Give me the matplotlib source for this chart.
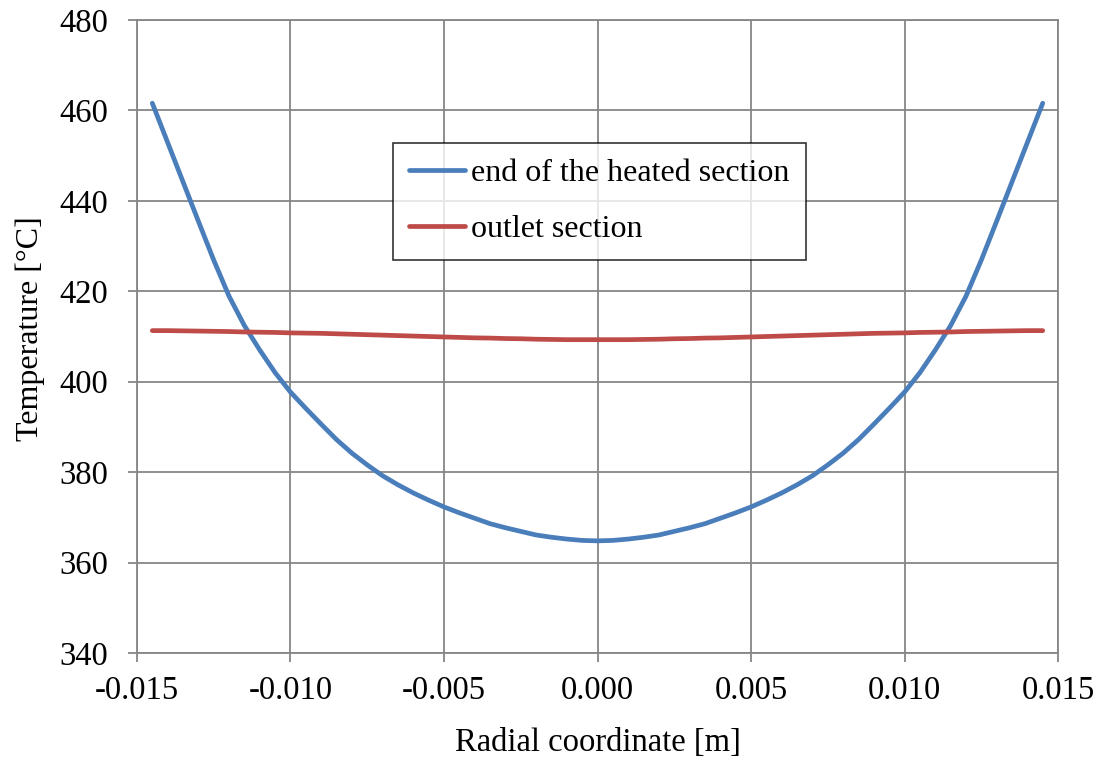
import numpy as np
import matplotlib.pyplot as plt

# radial coordinate [m]
radius = [-0.0145, -0.0140, -0.0135, -0.0130, -0.0125, -0.0120, -0.0115, -0.0110,
          -0.0105, -0.0100, -0.0095, -0.0090, -0.0085, -0.0080, -0.0075, -0.0070,
          -0.0065, -0.0060, -0.0055, -0.0050, -0.0045, -0.0040, -0.0035, -0.0030,
          -0.0025, -0.0020, -0.0015, -0.0010, -0.0005, 0.0000, 0.0005, 0.0010,
          0.0015, 0.0020, 0.0025, 0.0030, 0.0035, 0.0040, 0.0045, 0.0050,
          0.0055, 0.0060, 0.0065, 0.0070, 0.0075, 0.0080, 0.0085, 0.0090,
          0.0095, 0.0100, 0.0105, 0.0110, 0.0115, 0.0120, 0.0125, 0.0130,
          0.0135, 0.0140, 0.0145]

# temperature at the end of the heated section [°C]
temp_heated = [461.6, 452.9, 444.2, 435.5, 426.9, 418.9, 412.4, 407.0,
               402.0, 397.7, 394.1, 390.6, 387.2, 384.2, 381.6, 379.2,
               377.2, 375.4, 373.8, 372.3, 371.0, 369.8, 368.6, 367.7,
               366.9, 366.1, 365.6, 365.2, 364.9, 364.8, 364.9, 365.2,
               365.6, 366.1, 366.9, 367.7, 368.6, 369.8, 371.0, 372.3,
               373.8, 375.4, 377.2, 379.2, 381.6, 384.2, 387.2, 390.6,
               394.1, 397.7, 402.0, 407.0, 412.4, 418.9, 426.9, 435.5,
               444.2, 452.9, 461.6]

# temperature at the outlet section [°C]
temp_outlet = [411.30, 411.30, 411.25, 411.20, 411.15, 411.10, 411.00, 410.95,
               410.90, 410.80, 410.75, 410.70, 410.60, 410.50, 410.40, 410.30,
               410.20, 410.10, 410.00, 409.90, 409.80, 409.70, 409.65, 409.55,
               409.50, 409.40, 409.35, 409.30, 409.30, 409.30, 409.30, 409.30,
               409.35, 409.40, 409.50, 409.55, 409.65, 409.70, 409.80, 409.90,
               410.00, 410.10, 410.20, 410.30, 410.40, 410.50, 410.60, 410.70,
               410.75, 410.80, 410.90, 410.95, 411.00, 411.10, 411.15, 411.20,
               411.25, 411.30, 411.30]

x_ticks = [-0.015, -0.010, -0.005, 0.000, 0.005, 0.010, 0.015]
y_ticks = [340, 360, 380, 400, 420, 440, 460, 480]

plt.rcParams['font.family'] = ['Liberation Serif', 'DejaVu Serif']
plt.rcParams['font.size'] = 23.5

fig = plt.figure(figsize=(11.01, 7.64), dpi=100)
ax = fig.add_axes([0.1244, 0.1453, 0.8366, 0.8285])

ax.plot(radius, temp_heated, color='#4A7EBB', lw=3.4, label='end of the heated section',
        solid_capstyle='round', solid_joinstyle='round')
ax.plot(radius, temp_outlet, color='#BE4B48', lw=3.4, label='outlet section',
        solid_capstyle='round', solid_joinstyle='round')

ax.set_xlim(-0.015, 0.015)
ax.set_ylim(340, 480)
ax.set_xticks(x_ticks)
ax.set_xticklabels([f"{t:.3f}" for t in x_ticks])
ax.set_yticks(y_ticks)
ax.grid(True, color='#868686', lw=1.3)
ax.set_axisbelow(True)
for s in ax.spines.values():
    s.set_color('#868686')
    s.set_linewidth(1.3)
ax.tick_params(direction='out', length=6.5, width=1.3, color='#868686')
ax.tick_params(axis='x', pad=9.5)
ax.tick_params(axis='y', pad=14)

ax.set_xlabel("Radial coordinate [m]", labelpad=16)
ax.set_ylabel("Temperature [°C]", labelpad=10.5, fontsize=23, y=0.513)

leg = ax.legend(loc='upper left', bbox_to_anchor=(0.278, 0.806), frameon=True,
                fancybox=False, edgecolor='black', handlelength=1.75,
                handletextpad=0.2, labelspacing=0.83, borderpad=0.5,
                borderaxespad=0, fontsize=23)
leg.get_frame().set_linewidth(1.2)

plt.savefig("out.png", dpi=100)
